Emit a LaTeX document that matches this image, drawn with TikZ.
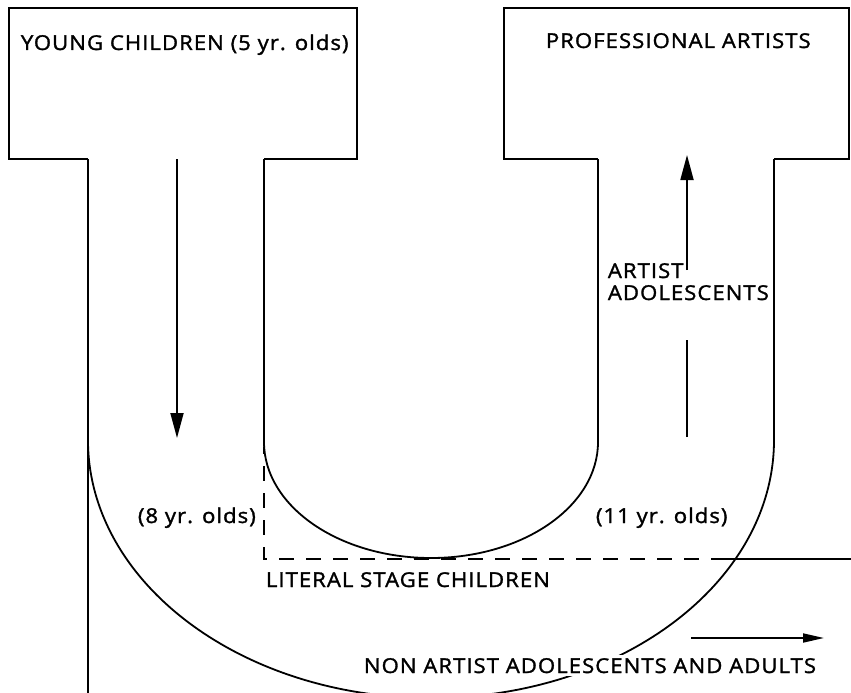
\documentclass[tikz,border=0pt]{standalone}
\usepackage{fontspec}
\setmainfont{Open Sans}
\newfontfamily\lblfont{Open Sans}[FakeStretch=1.08, LetterSpace=5, FakeBold=1.5]
\usetikzlibrary{arrows.meta}
\begin{document}
\begin{tikzpicture}[x=1bp,y=-1bp, line width=1.8bp,
  lbl/.style={inner sep=0pt, anchor=base west, font=\lblfont\fontsize{20.5bp}{22bp}\selectfont},
  bigarrow/.style={-{Triangle[length=25bp,width=13bp]}},
  smallarrow/.style={-{Triangle[length=21bp,width=9bp]}},
  dashline/.style={dash pattern=on 15bp off 12bp}]
\useasboundingbox (0,0) rectangle (851,693);
\begin{scope}
\clip (0,0) rectangle (851,693);
% boxes
\draw (88,159) -- (9,159) -- (9,8) -- (357,8) -- (357,159) -- (264,159);
\draw (598,159) -- (504,159) -- (504,8) -- (849,8) -- (849,159) -- (774,159);
% outer U
\draw (88,159) -- (88,693);
\draw (774,159) -- (774,440) arc[start angle=0, end angle=-180, x radius=343bp, y radius=258bp];
% inner U
\draw (264,159) -- (264,442) arc[start angle=180, end angle=360, x radius=167bp, y radius=116bp] -- (598,159);
% dashed literal stage
\draw[dashline, dash phase=8bp] (264,447) -- (264,559) -- (723,559);
\draw (723,559) -- (851,559);
% labels
\node[lbl] (young) at (20,50) {YOUNG CHILDREN (5 yr. olds)};
\node[lbl] (prof) at (545,48) {PROFESSIONAL ARTISTS};
\node[lbl, align=left] (artad) at (607,300) {ARTIST\\ADOLESCENTS};
\node[lbl] (eight) at (137,523) {(8 yr. olds)};
\node[lbl] (eleven) at (595,523) {(11 yr. olds)};
\node[lbl] (literal) at (265,587) {LITERAL STAGE CHILDREN};
\node[lbl, fill=white, inner xsep=2bp, inner ysep=3bp] (nonart) at (361,673) {NON ARTIST ADOLESCENTS AND ADULTS};
% arrows
\coordinate (d1) at (177,159);
\coordinate (d2) at (177,438);
\draw[bigarrow] (d1) -- (d2);
\coordinate (u1) at (687,437);
\coordinate (u2) at (687,340);
\coordinate (u3) at (687,270);
\coordinate (u4) at (687,155);
\draw (u1) -- (u2);
\draw[bigarrow] (u3) -- (u4);
\coordinate (r1) at (691,638);
\coordinate (r2) at (824,638);
\draw[smallarrow] (r1) -- (r2);
\end{scope}
\end{tikzpicture}
\end{document}
